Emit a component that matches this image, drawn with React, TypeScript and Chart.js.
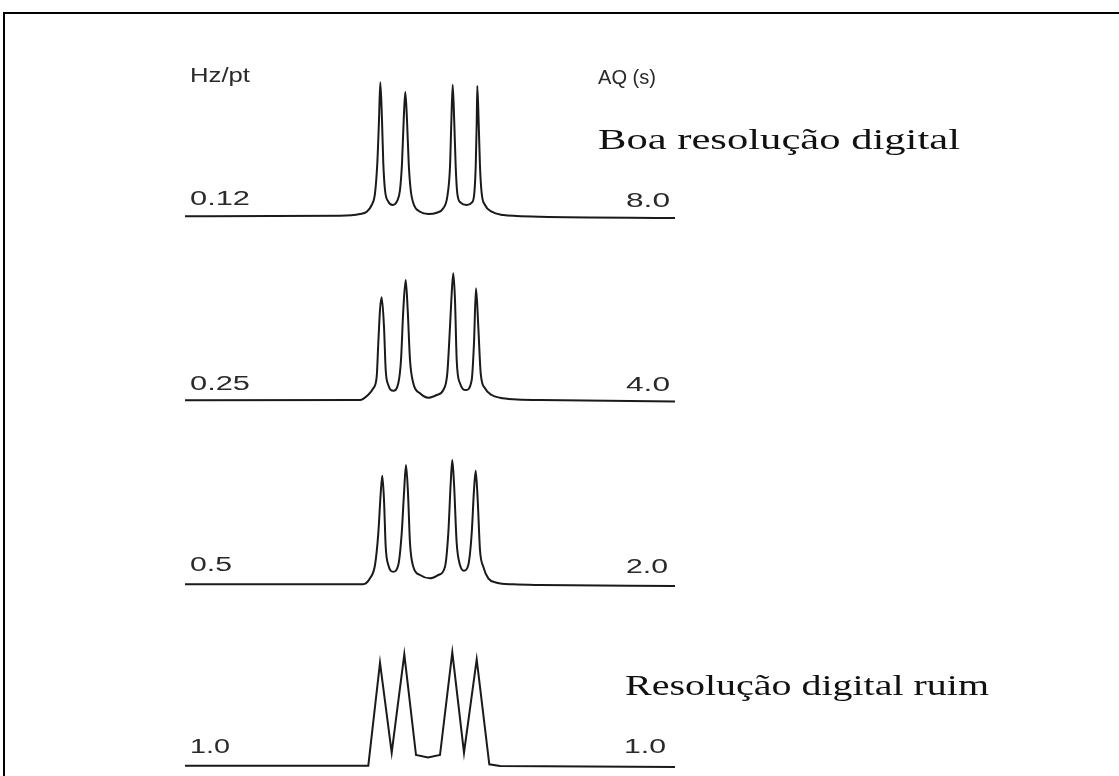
import React, { useEffect, useRef } from "react";
import { Chart, registerables } from "chart.js";

Chart.register(...registerables);

// Frequency axis in arbitrary units (x), intensities above each trace's baseline (y)
// Trace A: 0.12 Hz/pt, AQ 8.0 s
const xA = [0, 15.5, 17.5, 18.17, 18.67, 19.0, 19.23, 19.4, 19.53, 19.7, 19.83, 20.0, 20.33, 20.77, 21.23, 21.5, 21.7, 21.87, 22.03, 22.2, 22.37, 22.57, 22.9, 23.5, 24.33, 25.17, 25.83, 26.23, 26.5, 26.63, 26.77, 26.93, 27.07, 27.23, 27.57, 28.17, 28.67, 28.93, 29.07, 29.17, 29.23, 29.37, 29.5, 29.67, 30.0, 30.67, 31.83, 33.17, 35.5, 49];
const yA = [0.02, 0.08, 0.25, 0.48, 1.15, 2.32, 5.32, 9.65, 13.42, 9.65, 5.32, 2.65, 1.48, 1.15, 1.58, 2.65, 5.32, 9.65, 12.45, 9.65, 5.32, 2.65, 1.15, 0.48, 0.25, 0.38, 0.82, 1.98, 4.98, 9.32, 13.18, 9.32, 4.98, 2.32, 1.38, 1.15, 1.38, 2.32, 4.98, 9.32, 13.05, 9.32, 4.98, 2.32, 1.15, 0.48, 0.15, 0.05, -0.02, -0.15];

// Trace B: 0.25 Hz/pt, AQ 4.0 s
const xB = [0, 17.5, 18.3, 18.83, 19.17, 19.33, 19.5, 19.67, 19.9, 20.07, 20.33, 20.83, 21.33, 21.6, 21.83, 22.07, 22.27, 22.5, 22.83, 23.5, 24.33, 25.17, 25.83, 26.23, 26.5, 26.67, 26.83, 27.0, 27.17, 27.5, 28.1, 28.67, 28.9, 29.1, 29.33, 29.57, 30.0, 30.67, 31.5, 32.83, 35.5, 49];
const yB = [0.02, 0.05, 0.55, 1.22, 2.38, 5.75, 9.05, 10.32, 7.38, 3.05, 1.55, 0.98, 1.72, 4.05, 9.05, 12.05, 9.05, 4.05, 1.72, 0.72, 0.28, 0.55, 1.05, 2.72, 7.38, 10.72, 12.72, 10.05, 4.05, 1.72, 1.05, 2.05, 5.75, 11.22, 7.38, 2.72, 1.22, 0.55, 0.28, 0.12, 0.05, -0.1];

// Trace C: 0.5 Hz/pt, AQ 2.0 s
const xC = [0, 17.8, 18.5, 19.0, 19.33, 19.57, 19.73, 19.9, 20.07, 20.33, 20.83, 21.33, 21.67, 21.9, 22.1, 22.3, 22.5, 22.83, 23.5, 24.5, 25.33, 26.0, 26.33, 26.57, 26.73, 26.9, 27.17, 27.5, 27.9, 28.33, 28.67, 28.9, 29.07, 29.27, 29.5, 29.83, 30.33, 31.17, 32.83, 35.5, 49];
const yC = [0.02, 0.02, 0.62, 1.95, 5.12, 9.12, 10.88, 8.45, 3.78, 1.95, 1.28, 1.95, 5.12, 9.12, 11.95, 9.12, 4.12, 1.78, 0.95, 0.62, 0.95, 1.78, 5.12, 10.12, 12.45, 10.12, 4.12, 1.95, 1.38, 1.95, 5.12, 9.45, 11.38, 8.45, 3.45, 1.78, 0.62, 0.18, 0.02, -0.05, -0.15];

// Trace D: 1.0 Hz/pt, AQ 1.0 s (coarse digitisation)
const xD = [0, 18.33, 19.5, 20.67, 21.93, 23.1, 24.3, 25.5, 26.73, 27.9, 29.17, 30.43, 31.5, 49];
const yD = [0.03, 0.03, 10.33, 1.33, 11.17, 1.1, 0.85, 1.1, 11.37, 1.33, 10.67, 0.17, 0, -0.1];

const hzPerPoint = ["0.12", "0.25", "0.5", "1.0"];
const acqTimes = ["8.0", "4.0", "2.0", "1.0"];
const headerLeft = "Hz/pt";
const headerRight = "AQ (s)";
const noteGood = "Boa resolução digital";
const notePoor = "Resolução digital ruim";

const W = 1119;
const H = 776;
// vertical offsets of each trace baseline (chart units)
const offsets = [55.95, 37.55, 19.15, 1.0];

function App() {
  const ref = useRef<HTMLCanvasElement | null>(null);
  useEffect(() => {
    if (!ref.current) return;
    const series = [
      { xs: xA, ys: yA, smooth: true },
      { xs: xB, ys: yB, smooth: true },
      { xs: xC, ys: yC, smooth: true },
      { xs: xD, ys: yD, smooth: false },
    ];
    const datasets = series.map((s, i) => ({
      label: hzPerPoint[i] + " Hz/pt",
      data: s.xs.map((x, j) => ({ x, y: s.ys[j] + offsets[i] })),
      borderColor: "#1a1a1a",
      borderWidth: 2,
      pointRadius: 0,
      fill: false,
      tension: 0,
      cubicInterpolationMode: s.smooth ? ("monotone" as const) : ("default" as const),
    }));

    type Lbl = { t: string; x: number; y: number; w: number; serif?: boolean };
    const labels: Lbl[] = [
      { t: headerLeft, x: 190, y: 82, w: 60 },
      { t: headerRight, x: 598, y: 84, w: 58 },
      { t: noteGood, x: 598, y: 149, w: 362, serif: true },
      { t: notePoor, x: 625, y: 695, w: 364, serif: true },
      { t: hzPerPoint[0], x: 190, y: 205, w: 60 },
      { t: acqTimes[0], x: 626, y: 207, w: 44 },
      { t: hzPerPoint[1], x: 190, y: 390, w: 60 },
      { t: acqTimes[1], x: 626, y: 391, w: 44 },
      { t: hzPerPoint[2], x: 190, y: 571, w: 42 },
      { t: acqTimes[2], x: 626, y: 573, w: 42 },
      { t: hzPerPoint[3], x: 190, y: 753, w: 40 },
      { t: acqTimes[3], x: 624, y: 753, w: 42 },
    ];

    const overlay = {
      id: "overlay",
      afterDraw(chart: Chart) {
        const ctx = chart.ctx;
        ctx.save();
        ctx.fillStyle = "#000";
        ctx.fillRect(3, 12, W, 2);
        ctx.fillRect(3, 12, 2, H);
        ctx.textBaseline = "alphabetic";
        ctx.textAlign = "left";
        for (const l of labels) {
          ctx.font = l.serif ? '30px "Liberation Serif"' : '20px "Liberation Sans"';
          ctx.fillStyle = l.serif ? "#111" : "#2a2a2a";
          const m = ctx.measureText(l.t).width;
          const sx = l.w / m;
          ctx.save();
          ctx.translate(l.x, l.y);
          ctx.scale(sx, 1);
          ctx.fillText(l.t, 0, 0);
          ctx.restore();
        }
        ctx.restore();
      },
    };

    const chart = new Chart(ref.current, {
      type: "line",
      data: { datasets },
      options: {
        animation: false,
        responsive: false,
        maintainAspectRatio: false,
        devicePixelRatio: 1,
        layout: { padding: 0 },
        plugins: { legend: { display: false }, tooltip: { enabled: false }, title: { display: false } },
        scales: {
          x: { type: "linear", min: -18.5, max: 93.4, display: false },
          y: { type: "linear", min: 0, max: 77.6, display: false },
        },
      },
      plugins: [overlay],
    });
    return () => chart.destroy();
  }, []);

  return (
    <div style={{ position: "fixed", left: 0, top: 0, width: W, height: H, background: "#fff" }}>
      <canvas ref={ref} width={W} height={H} style={{ display: "block", width: W, height: H }} />
    </div>
  );
}

export default App;
